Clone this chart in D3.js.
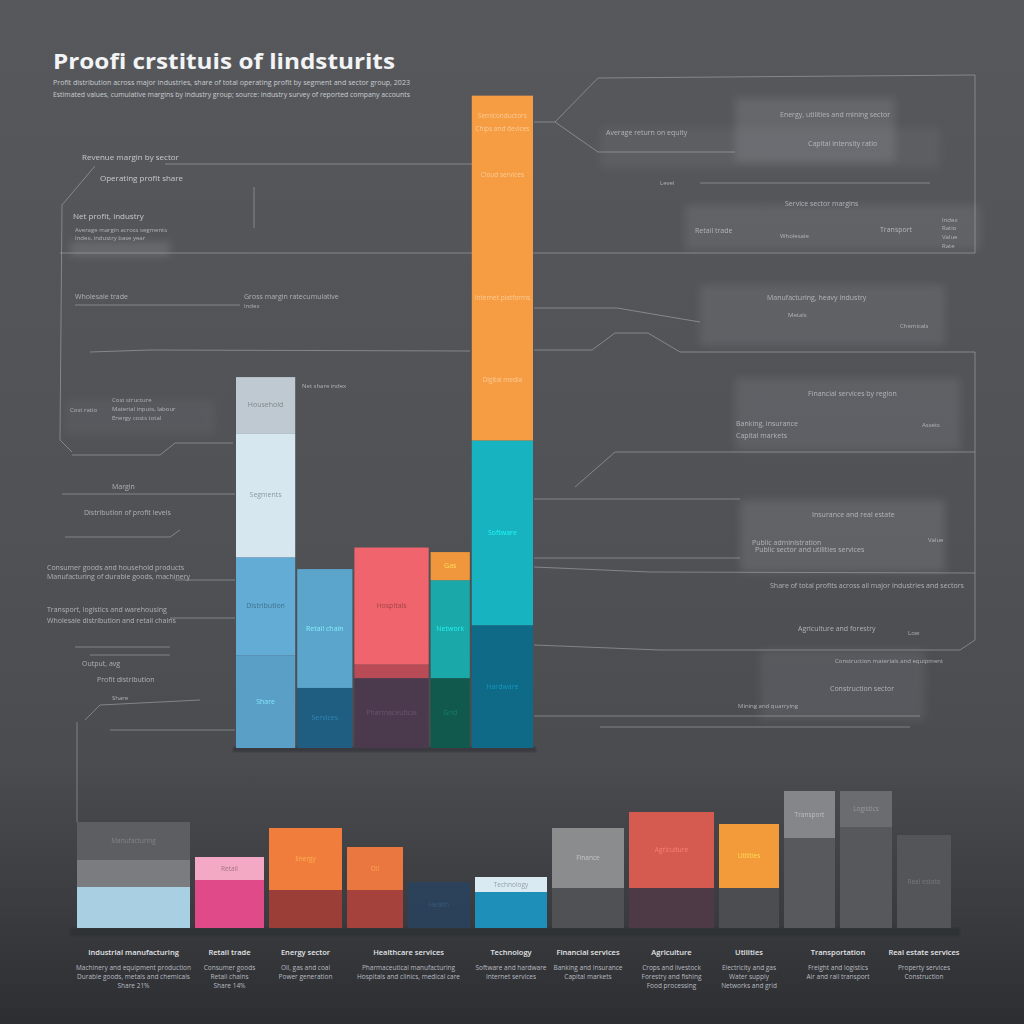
<!DOCTYPE html>
<html><head><meta charset="utf-8">
<script src="https://cdn.jsdelivr.net/npm/d3@7"></script>
<style>html,body{margin:0;padding:0;background:#46484c;}svg{display:block;}text{font-family:"Open Sans","Noto Sans",sans-serif;}</style>
</head><body><svg id="c" width="1024" height="1024"></svg>
<script>
// ---------- DATA ----------
const title = "Proofi crstituis of lindsturits";
const subtitle = [
  "Profit distribution across major industries, share of total operating profit by segment and sector group, 2023",
  "Estimated values, cumulative margins by industry group; source: industry survey of reported company accounts"
];
const topCategories = ["Consumer", "Retail", "Health", "Utilities", "Technology"];
const topShares = [61, 57, 76, 41, 63];
const topValues = [
  [14.2, 15.0, 19.0, 8.6],
  [9.2, 18.2],
  [10.7, 2.1, 17.9],
  [10.7, 15.0, 4.3],
  [18.8, 28.3, 52.8]
];
const topColors = [
  ["#5a9fc6", "#63acd5", "#d6e7f0", "#bfc9d1"],
  ["#1f5e80", "#5ba5cd"],
  ["#4b3a4d", "#b94b57", "#f0656d"],
  ["#10594c", "#1aa8a9", "#f0973d"],
  ["#0e6a86", "#17b3c1", "#f69c43"]
];
const topSegLabels = [
  ["Share", "Distribution", "Segments", "Household"],
  ["Services", "Retail chain"],
  ["Pharmaceutical", "", "Hospitals"],
  ["Grid", "Network", "Gas"],
  ["Hardware", "Software", ""]
];
// labels spread along the tall technology segment (fraction from its top)
const tallSegLabels = ["Semiconductors", "Chips and devices", "Cloud services", "Internet platforms", "Digital media"];
const tallSegPos = [0.058, 0.096, 0.229, 0.586, 0.826];
const bottomCategories = ["Manufacturing", "Retail", "Energy", "Oil", "Health", "Technology", "Finance", "Agriculture", "Utilities", "Transport", "Logistics", "Real estate"];
const bottomShares = [113, 69, 73, 56, 62, 72, 72, 85, 60, 51, 52, 54];
const bottomValues = [
  [8.2, 5.4, 7.6], [9.6, 4.6], [7.6, 12.4], [7.6, 8.6], [9.2], [7.2, 3.0],
  [8.0, 12.0], [8.0, 15.2], [8.0, 12.8], [18.0, 9.4], [20.2, 7.2], [18.6]
];
const bottomColors = [
  ["#a8cfe2", "#7a7c80", "#5c5e62"], ["#e04a88", "#f3a8c4"], ["#9c3e38", "#f07d3c"], ["#a4423b", "#e9773f"],
  ["#29435f"], ["#1e8fb9", "#d9eaf2"], ["#4f5154", "#8b8c8e"], ["#4e3a47", "#d55b51"], ["#4b4d51", "#f39b3b"],
  ["#58595d", "#858689"], ["#57585b", "#6b6c70"], ["#545559"]
];
const groupTitles = ["Industrial manufacturing", "Retail trade", "Energy sector", "Healthcare services", "Technology", "Financial services", "Agriculture", "Utilities", "Transportation", "Real estate services"];
const groupBars = [[0], [1], [2], [3, 4], [5], [6], [7], [8], [9, 10], [11]];
const groupNotes = [
  ["Machinery and equipment production", "Durable goods, metals and chemicals", "Share 21%"],
  ["Consumer goods", "Retail chains", "Share 14%"],
  ["Oil, gas and coal", "Power generation"],
  ["Pharmaceutical manufacturing", "Hospitals and clinics, medical care"],
  ["Software and hardware", "Internet services"],
  ["Banking and insurance", "Capital markets"],
  ["Crops and livestock", "Forestry and fishing", "Food processing"],
  ["Electricity and gas", "Water supply", "Networks and grid"],
  ["Freight and logistics", "Air and rail transport"],
  ["Property services", "Construction"]
];

// ---------- SETUP ----------
const svg = d3.select("#c");
const W = 1024, H = 1024;
const defs = svg.append("defs");
const bg = defs.append("linearGradient").attr("id", "bg").attr("x1", 0).attr("y1", 0).attr("x2", 0).attr("y2", 1);
[[0, "#56585c"], [0.5, "#505256"], [0.74, "#4a4c50"], [0.86, "#3d3f43"], [1, "#2c2e31"]].forEach(s => bg.append("stop").attr("offset", s[0]).attr("stop-color", s[1]));
defs.append("filter").attr("id", "blur").attr("x", "-20%").attr("y", "-50%").attr("width", "140%").attr("height", "200%")
  .append("feGaussianBlur").attr("stdDeviation", 4);
defs.append("filter").attr("id", "soft").append("feGaussianBlur").attr("stdDeviation", 1.2);
svg.append("rect").attr("width", W).attr("height", H).attr("fill", "url(#bg)");

// ---------- DECORATIVE ANNOTATION LAYER ----------
const decoLines = [
  [[165, 164], [472, 164]], [[95, 166], [62, 205], [60, 440], [72, 452]], [[60, 253], [975, 253]],
  [[75, 305], [240, 305]], [[90, 352], [150, 350], [470, 351]], [[254, 187], [254, 228]],
  [[534, 122], [555, 122], [598, 78], [975, 75], [975, 253]], [[555, 122], [598, 152], [735, 152]],
  [[700, 183], [930, 183]], [[534, 308], [617, 308], [700, 322]],
  [[534, 350], [592, 350], [615, 333], [648, 333], [680, 352], [975, 352], [975, 640], [960, 650]],
  [[575, 487], [615, 452], [975, 452]], [[534, 499], [740, 499]], [[534, 558], [740, 558]],
  [[534, 567], [650, 572], [975, 573]], [[534, 645], [660, 650], [960, 650]],
  [[534, 716], [920, 716]], [[600, 727], [910, 727]],
  [[72, 455], [160, 455], [175, 443], [233, 443]], [[62, 494], [235, 494]], [[65, 537], [170, 537], [180, 530]],
  [[175, 580], [235, 580]], [[170, 618], [235, 618]], [[75, 647], [170, 647]], [[90, 655], [170, 655]],
  [[85, 720], [100, 705], [200, 700]], [[110, 730], [235, 730]], [[77, 722], [77, 822]]
];
const decoRects = [
  [735, 98, 160, 64, 0.20], [600, 128, 340, 40, 0.10], [685, 205, 295, 45, 0.16], [700, 285, 245, 60, 0.16],
  [735, 378, 225, 72, 0.16], [740, 500, 205, 72, 0.20], [760, 650, 165, 70, 0.13], [70, 242, 100, 14, 0.25],
  [65, 400, 150, 35, 0.08]
];
const decoTexts = [
  [82, 160, 8, "Revenue margin by sector"], [100, 181, 8, "Operating profit share"], [73, 219, 8, "Net profit, industry"],
  [75, 232, 6, "Average margin across segments"], [75, 240, 6, "Index, industry base year"],
  [75, 299, 7, "Wholesale trade"], [244, 299, 7, "Gross margin rate"], [303, 299, 7, "cumulative"], [244, 308, 6, "Index"],
  [302, 388, 6, "Net share index"], [70, 412, 6, "Cost ratio"], [112, 402, 6, "Cost structure"],
  [112, 411, 6, "Material inputs, labour"], [112, 420, 6, "Energy costs total"],
  [112, 489, 7, "Margin"], [84, 515, 7, "Distribution of profit levels"],
  [47, 570, 7, "Consumer goods and household products"], [47, 579, 7, "Manufacturing of durable goods, machinery"],
  [47, 612, 7, "Transport, logistics and warehousing"], [47, 623, 7, "Wholesale distribution and retail chains"],
  [82, 666, 7, "Output, avg"], [97, 682, 7, "Profit distribution"], [112, 700, 6, "Share"],
  [606, 135, 7, "Average return on equity"], [780, 117, 7, "Energy, utilities and mining sector"],
  [808, 146, 7, "Capital intensity ratio"], [660, 185, 6, "Level"], [785, 206, 7, "Service sector margins"],
  [695, 233, 7, "Retail trade"], [780, 238, 6, "Wholesale"], [880, 232, 7, "Transport"],
  [942, 222, 6, "Index"], [942, 230, 6, "Ratio"], [942, 239, 6, "Value"], [942, 248, 6, "Rate"],
  [767, 300, 7, "Manufacturing, heavy industry"], [788, 317, 6, "Metals"], [900, 328, 6, "Chemicals"],
  [808, 396, 7, "Financial services by region"], [736, 426, 7, "Banking, insurance"],
  [736, 438, 7, "Capital markets"], [922, 427, 6, "Assets"],
  [812, 517, 7, "Insurance and real estate"], [752, 545, 7, "Public administration"],
  [755, 552, 7, "Public sector and utilities services"], [928, 542, 6, "Value"],
  [770, 588, 7, "Share of total profits across all major industries and sectors"],
  [798, 631, 7, "Agriculture and forestry"], [908, 635, 6, "Low"],
  [835, 663, 6, "Construction materials and equipment"], [830, 691, 7, "Construction sector"],
  [738, 708, 6, "Mining and quarrying"]
];
const deco = svg.append("g");
deco.selectAll("rect").data(decoRects).join("rect")
  .attr("x", d => d[0]).attr("y", d => d[1]).attr("width", d => d[2]).attr("height", d => d[3])
  .attr("fill", "#a5a8ad").attr("opacity", d => d[4]).attr("filter", "url(#blur)");
deco.selectAll("path").data(decoLines).join("path")
  .attr("d", d => d3.line()(d)).attr("fill", "none").attr("stroke", "#b6b9be").attr("stroke-opacity", 0.5).attr("stroke-width", 1);
deco.selectAll("text").data(decoTexts).join("text")
  .attr("x", d => d[0]).attr("y", d => d[1]).attr("font-size", d => d[2])
  .attr("fill", d => d[2] >= 8 ? "#dfe1e5" : "#c4c7cc").attr("opacity", 0.8).text(d => d[3]);

// ---------- TITLE ----------
svg.append("text").attr("x", 53).attr("y", 69).attr("font-size", 22).attr("font-weight", 700)
  .attr("fill", "#f2f3f5").attr("textLength", 342).attr("lengthAdjust", "spacingAndGlyphs").text(title);
svg.selectAll("text.sub").data(subtitle).join("text").attr("class", "sub")
  .attr("x", 53).attr("y", (d, i) => 85 + i * 12).attr("font-size", 7.5).attr("fill", "#c9ccd0")
  .attr("textLength", 357).attr("lengthAdjust", "spacingAndGlyphs").text(d => d);

// ---------- TOP MARIMEKKO ----------
const yTop = d3.scaleLinear().domain([0, 100]).range([748, 95]);
const xTop = d3.scaleLinear().domain([0, d3.sum(topShares)]).range([235, 534]);
const topCum = d3.cumsum([0, ...topShares]);
svg.append("rect").attr("x", 233).attr("y", 747).attr("width", 303).attr("height", 5).attr("fill", "#34363a").attr("opacity", 0.8).attr("filter", "url(#soft)");
const txtCol = c => { const col = d3.hsl(c); return col.l > 0.6 ? d3.color(c).darker(1.3) : d3.color(c).brighter(1.1); };
topValues.forEach((vals, i) => {
  const x0 = xTop(topCum[i]) + 1, x1 = xTop(topCum[i + 1]) - 1;
  const cum = d3.cumsum([0, ...vals]);
  const g = svg.append("g");
  vals.forEach((v, j) => {
    const yb = yTop(cum[j]), yt = yTop(cum[j + 1]);
    g.append("rect").attr("x", x0).attr("y", yt).attr("width", x1 - x0).attr("height", yb - yt).attr("fill", topColors[i][j]);
    const lab = topSegLabels[i][j];
    if (lab) {
      g.append("text").attr("x", (x0 + x1) / 2).attr("y", (yt + yb) / 2 + 2).attr("text-anchor", "middle")
        .attr("font-size", 7).attr("fill", txtCol(topColors[i][j])).attr("opacity", 0.9).text(lab);
    }
  });
});
// labels spread over the tallest segment
{
  const i = 4, j = 2;
  const x0 = xTop(topCum[i]), x1 = xTop(topCum[i + 1]);
  const cum = d3.cumsum([0, ...topValues[i]]);
  const yt = yTop(cum[j + 1]), yb = yTop(cum[j]);
  tallSegLabels.forEach((t, k) => {
    svg.append("text").attr("x", (x0 + x1) / 2).attr("y", yt + (yb - yt) * tallSegPos[k] + 2).attr("text-anchor", "middle")
      .attr("font-size", 6.5).attr("fill", "#fbd5a8").attr("opacity", 0.85).text(t);
  });
}

// ---------- BOTTOM CHART ----------
const yBot = d3.scaleLinear().domain([0, 30]).range([928, 778]);
const gap = 5;
const xBot = d3.scaleLinear().domain([0, d3.sum(bottomShares)]).range([77, 951 - gap * (bottomShares.length - 1)]);
const botCum = d3.cumsum([0, ...bottomShares]);
const bx0 = i => xBot(botCum[i]) + i * gap;
const bx1 = i => xBot(botCum[i + 1]) + i * gap;
svg.append("rect").attr("x", 70).attr("y", 928).attr("width", 890).attr("height", 8).attr("fill", "#2b2d30").attr("opacity", 0.6).attr("filter", "url(#soft)");
bottomValues.forEach((vals, i) => {
  const cum = d3.cumsum([0, ...vals]);
  const g = svg.append("g").attr("opacity", bottomCategories[i] === "Health" ? 0.85 : 1);
  vals.forEach((v, j) => {
    const yb = yBot(cum[j]), yt = yBot(cum[j + 1]);
    g.append("rect").attr("x", bx0(i)).attr("y", yt).attr("width", bx1(i) - bx0(i)).attr("height", yb - yt)
      .attr("fill", bottomColors[i][j]);
  });
  const j = vals.length - 1;
  const yb = yBot(cum[j]), yt = yBot(cum[j + 1]);
  g.append("text").attr("x", (bx0(i) + bx1(i)) / 2).attr("y", (yt + yb) / 2 + 2).attr("text-anchor", "middle")
    .attr("font-size", 6.5).attr("fill", txtCol(bottomColors[i][j])).attr("opacity", 0.85).text(bottomCategories[i]);
});

// group labels below
groupTitles.forEach((t, k) => {
  const bars = groupBars[k];
  const cx = (bx0(bars[0]) + bx1(bars[bars.length - 1])) / 2;
  svg.append("text").attr("x", cx).attr("y", 955).attr("text-anchor", "middle").attr("font-size", 7.5)
    .attr("font-weight", 600).attr("fill", "#e3e5e8").text(t);
  groupNotes[k].forEach((n, m) => {
    svg.append("text").attr("x", cx).attr("y", 970 + m * 9).attr("text-anchor", "middle").attr("font-size", 6.5)
      .attr("fill", "#b9bcc1").text(n);
  });
});
</script></body></html>
